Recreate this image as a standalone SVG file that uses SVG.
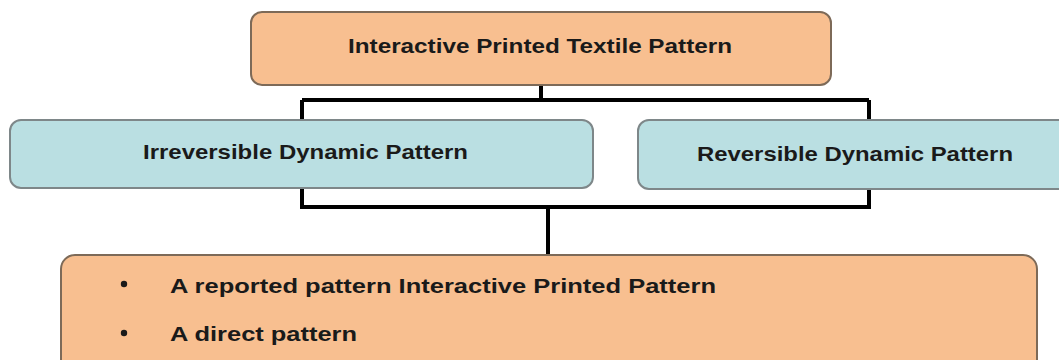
<svg xmlns="http://www.w3.org/2000/svg" width="1059" height="360" viewBox="0 0 1059 360">
<style>
.orange{fill:#F8BF90;stroke:#7d6a58;stroke-width:2}
.blue{fill:#BADFE2;stroke:#7e8789;stroke-width:2}
.conn{fill:none;stroke:#000;stroke-width:4}
text{font-family:"Liberation Sans",Arial,sans-serif;font-weight:bold;font-size:21px;fill:#1a1a1a}
</style>
<rect width="1059" height="360" fill="#fff"/>
<g id="connectors">
<path class="conn" d="M541 85 V100 M302 100 H869 M302 100 V121 M869 100 V121"/>
<path class="conn" d="M302 188 V207 H869 V189 M548 207 V256"/>
</g>
<g id="node-top">
<rect class="orange" x="251" y="12" width="580" height="73" rx="11"/>
<text x="348" y="53" textLength="384" lengthAdjust="spacingAndGlyphs">Interactive Printed Textile Pattern</text>
</g>
<g id="node-irreversible">
<rect class="blue" x="10" y="120" width="583" height="68" rx="11"/>
<text x="143" y="159" textLength="325" lengthAdjust="spacingAndGlyphs">Irreversible Dynamic Pattern</text>
</g>
<g id="node-reversible">
<rect class="blue" x="638" y="120" width="440" height="69" rx="11"/>
<text x="697" y="161" textLength="316" lengthAdjust="spacingAndGlyphs">Reversible Dynamic Pattern</text>
</g>
<g id="node-bottom">
<rect class="orange" x="61" y="255" width="976" height="120" rx="14"/>
<circle cx="124" cy="284" r="3.2" fill="#1a1a1a"/>
<circle cx="124" cy="333" r="3.2" fill="#1a1a1a"/>
<text x="170" y="293" textLength="546" lengthAdjust="spacingAndGlyphs">A reported pattern Interactive Printed Pattern</text>
<text x="170" y="341" textLength="187" lengthAdjust="spacingAndGlyphs">A direct pattern</text>
</g>
</svg>
